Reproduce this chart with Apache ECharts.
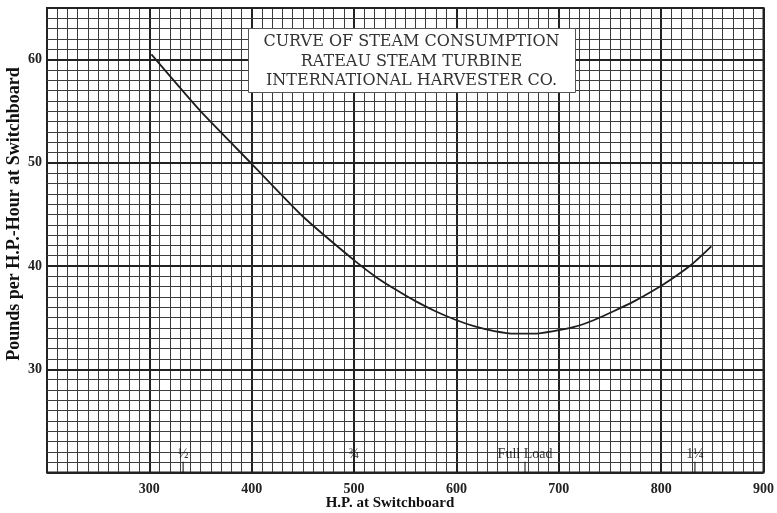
<!DOCTYPE html>
<html>
<head>
<meta charset="utf-8">
<script src="https://cdn.jsdelivr.net/npm/echarts@6/dist/echarts.min.js"></script>
<style>
html,body{margin:0;padding:0;background:#fff;}
#chart{width:777px;height:513px;}
</style>
</head>
<body>
<div id="chart"></div>
<script>
// Horse power at switchboard (x) and pounds per H.P.-hour (y)
var hp  = [302, 350, 400, 450, 502, 522, 541, 560, 579, 599, 618, 637, 657, 676, 695, 715, 734, 753, 773, 792, 811, 831, 849];
var lbs = [60.5, 55.0, 49.9, 44.8, 40.4, 38.9, 37.7, 36.6, 35.65, 34.8, 34.15, 33.7, 33.45, 33.45, 33.7, 34.1, 34.75, 35.6, 36.55, 37.6, 38.8, 40.25, 41.9];

// Load marks along the bottom of the sheet
var loadHP = [333, 500, 667, 833];
var loadLabels = ['½', '¾', 'Full Load', '1¼'];

var xTicks = [300, 400, 500, 600, 700, 800, 900];
var yTicks = [30, 40, 50, 60];

var titleLines = ['CURVE OF STEAM CONSUMPTION', 'RATEAU STEAM TURBINE', 'INTERNATIONAL HARVESTER CO.'];
var xTitle = 'H.P. at Switchboard';
var yTitle = 'Pounds per H.P.-Hour at Switchboard';

var curve = hp.map(function (h, i) { return [h, lbs[i]]; });
var marks = loadHP.map(function (h, i) { return { value: [h, 20.5], label: { formatter: loadLabels[i] } }; });

var chart = echarts.init(document.getElementById('chart'), null, { renderer: 'canvas' });
var serif = '"Liberation Serif", "DejaVu Serif", serif';

chart.setOption({
  backgroundColor: '#ffffff',
  animation: false,
  grid: { left: 47, right: 5, top: 8, bottom: 40.5, show: true, borderColor: '#222', borderWidth: 2, backgroundColor: '#fff' },
  xAxis: {
    type: 'value', min: 200, max: 900, interval: 100,
    axisLine: { show: false }, axisTick: { show: false },
    axisLabel: {
      margin: 10, color: '#222', fontFamily: serif, fontWeight: 'bold', fontSize: 14,
      formatter: function (v) { return xTicks.indexOf(v) >= 0 ? String(v) : ''; }
    },
    splitLine: { show: true, lineStyle: { color: '#222', width: 2 } },
    minorTick: { show: false, splitNumber: 10 },
    minorSplitLine: { show: true, lineStyle: { color: '#3c3c3c', width: 1 } }
  },
  yAxis: [{
    type: 'value', min: 20, max: 65, interval: 10,
    axisLine: { show: false }, axisTick: { show: false },
    axisLabel: {
      margin: 5, color: '#222', fontFamily: serif, fontWeight: 'bold', fontSize: 14,
      formatter: function (v) { return yTicks.indexOf(v) >= 0 ? String(v) : ''; }
    },
    splitLine: { show: true, lineStyle: { color: '#222', width: 2 } },
    z: 3
  }, {
    type: 'value', min: 20, max: 65, interval: 1, position: 'left',
    axisLine: { show: false }, axisTick: { show: false }, axisLabel: { show: false },
    splitLine: { show: true, lineStyle: { color: '#3c3c3c', width: 1 } },
    z: 1
  }],
  series: [{
    type: 'line', data: curve, smooth: 0.2, symbol: 'none',
    lineStyle: { color: '#1e1e1e', width: 1.8 }, z: 5
  }, {
    type: 'scatter', data: marks, symbol: 'rect', symbolSize: [1.3, 11],
    itemStyle: { color: '#111' },
    label: { show: true, position: 'top', distance: 1, color: '#000', fontFamily: serif, fontSize: 14, textBorderWidth: 0 },
    emphasis: { disabled: true },
    z: 6
  }],
  graphic: [{
    type: 'rect', left: 248, top: 28, z: 10,
    shape: { width: 327, height: 64 },
    style: { fill: '#fff', stroke: '#555', lineWidth: 1 }
  }, {
    type: 'text', x: 411.5, y: 42, z: 11,
    style: { text: titleLines[0], font: '16px "DejaVu Serif"', fill: '#333', align: 'center', verticalAlign: 'middle' }
  }, {
    type: 'text', x: 411.5, y: 61.5, z: 11,
    style: { text: titleLines[1], font: '16px "DejaVu Serif"', fill: '#333', align: 'center', verticalAlign: 'middle' }
  }, {
    type: 'text', x: 411.5, y: 80.5, z: 11,
    style: { text: titleLines[2], font: '16px "DejaVu Serif"', fill: '#333', align: 'center', verticalAlign: 'middle' }
  }, {
    type: 'text', x: 390, y: 503, z: 11,
    style: { text: xTitle, font: 'bold 15px "Liberation Serif"', fill: '#111', align: 'center', verticalAlign: 'middle' }
  }, {
    type: 'text', x: 14, y: 214, rotation: Math.PI / 2, z: 11,
    style: { text: yTitle, font: 'bold 18px "Liberation Serif"', fill: '#111', align: 'center', verticalAlign: 'middle' }
  }]
});
</script>
</body>
</html>
